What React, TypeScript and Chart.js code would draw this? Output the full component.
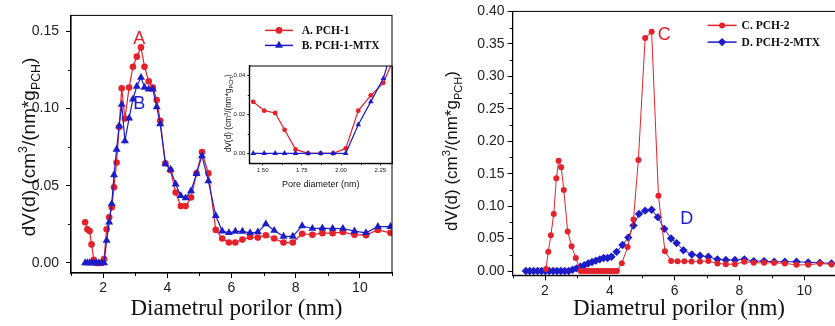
import React, { useEffect, useRef } from 'react';
import { Chart, registerables } from 'chart.js';
Chart.register(...registerables);

const RED = '#e3222b';
const BLUE = '#1c1cc8';
const SANS = '"Liberation Sans", Arial, sans-serif';
const SERIF = '"Liberation Serif", "Times New Roman", serif';

// ---------- Left panel data (PCH-1 / PCH-1-MTX) ----------
const leftX = [1.44, 1.51, 1.58, 1.64, 1.71, 1.79, 1.87, 1.95, 2.03, 2.11, 2.19, 2.27, 2.34, 2.42, 2.5, 2.58, 2.68, 2.81, 2.93, 3.05, 3.18, 3.29, 3.42, 3.55, 3.67, 3.78, 3.94, 4.1, 4.26, 4.42, 4.57, 4.74, 4.91, 5.08, 5.28, 5.51, 5.71, 5.92, 6.12, 6.34, 6.58, 6.82, 7.07, 7.33, 7.62, 7.91, 8.2, 8.52, 8.83, 9.15, 9.47, 9.83, 10.19, 10.56, 10.95];
const pch1 = [0.0263, 0.0218, 0.0206, 0.012, 0.002, 0, 0, 0, 0.0025, 0.0218, 0.0296, 0.036, 0.049, 0.065, 0.088, 0.113, 0.0935, 0.1135, 0.127, 0.1335, 0.1395, 0.127, 0.1175, 0.1135, 0.1055, 0.092, 0.0645, 0.06, 0.0456, 0.0368, 0.0368, 0.0424, 0.058, 0.0718, 0.058, 0.0214, 0.0158, 0.0132, 0.0132, 0.0151, 0.0168, 0.0164, 0.0179, 0.0158, 0.0132, 0.0132, 0.0189, 0.0183, 0.0193, 0.0193, 0.02, 0.0183, 0.018, 0.0214, 0.0195];
const pch1Mtx = [0, 0, 0, 0, 0, 0, 0, 0, 0, 0.0146, 0.0264, 0.0383, 0.057, 0.0735, 0.0887, 0.1025, 0.079, 0.0937, 0.106, 0.1143, 0.12, 0.1136, 0.1124, 0.1125, 0.101, 0.09, 0.064, 0.0605, 0.051, 0.0435, 0.042, 0.0466, 0.0578, 0.0693, 0.053, 0.0305, 0.0206, 0.0195, 0.0204, 0.0204, 0.0195, 0.02, 0.0252, 0.021, 0.0172, 0.0172, 0.024, 0.0223, 0.0225, 0.0223, 0.0223, 0.0206, 0.0195, 0.0235, 0.0235];
const insetCount = 14; // points of the left series shown in the inset

// ---------- Right panel data (PCH-2 / PCH-2-MTX) ----------
const pch2X = [2.03, 2.1, 2.18, 2.27, 2.35, 2.42, 2.5, 2.58, 2.7, 2.82, 2.95, 3.1, 3.18, 3.26, 3.34, 3.42, 3.5, 3.58, 3.66, 3.74, 3.82, 3.9, 3.98, 4.06, 4.14, 4.22, 4.37, 4.55, 4.73, 4.88, 5.09, 5.29, 5.5, 5.7, 5.89, 6.09, 6.3, 6.52, 6.78, 7.04, 7.32, 7.58, 7.86, 8.15, 8.44, 8.76, 9.07, 9.4, 9.76, 10.12, 10.48, 10.84];
const pch2 = [0.003, 0.0295, 0.055, 0.088, 0.143, 0.17, 0.16, 0.125, 0.061, 0.038, 0.02, 0, 0, 0, 0, 0, 0, 0, 0, 0, 0, 0, 0, 0, 0, 0, 0.012, 0.037, 0.0795, 0.171, 0.359, 0.3685, 0.116, 0.0306, 0.0155, 0.015, 0.015, 0.0145, 0.0145, 0.0155, 0.0117, 0.0105, 0.0105, 0.0143, 0.0127, 0.0127, 0.0127, 0.0117, 0.0095, 0.0095, 0.0117, 0.0102];
const pch2MtxX = [1.41, 1.53, 1.65, 1.77, 1.89, 2.01, 2.13, 2.25, 2.37, 2.49, 2.61, 2.73, 2.85, 2.97, 3.09, 3.21, 3.33, 3.45, 3.57, 3.69, 3.81, 3.93, 4.05, 4.21, 4.39, 4.57, 4.73, 4.9, 5.09, 5.29, 5.48, 5.68, 5.89, 6.06, 6.27, 6.53, 6.78, 7.04, 7.32, 7.58, 7.86, 8.15, 8.44, 8.76, 9.07, 9.4, 9.76, 10.12, 10.48, 10.84];
const pch2Mtx = [0, 0, 0, 0, 0, 0, 0, 0, 0, 0, 0, 0, 0.002, 0.004, 0.0065, 0.009, 0.0115, 0.014, 0.016, 0.018, 0.02, 0.02, 0.022, 0.0295, 0.04, 0.0515, 0.07, 0.088, 0.093, 0.0943, 0.083, 0.065, 0.05, 0.043, 0.032, 0.0255, 0.0235, 0.022, 0.018, 0.017, 0.017, 0.018, 0.0153, 0.0153, 0.0143, 0.0143, 0.0143, 0.0133, 0.0127, 0.0117];

// ---------- Ticks ----------
const xTicks = [2, 4, 6, 8, 10];
const xTickLabels = ['2', '4', '6', '8', '10'];
const xMinor = [1, 3, 5, 7, 9, 11];
const leftYTicks = [0, 0.05, 0.1, 0.15];
const leftYTickLabels = ['0.00', '0.05', '0.10', '0.15'];
const leftYMinor = [0.025, 0.075, 0.125];
const rightYTicks = [0, 0.05, 0.1, 0.15, 0.2, 0.25, 0.3, 0.35, 0.4];
const rightYTickLabels = ['0.00', '0.05', '0.10', '0.15', '0.20', '0.25', '0.30', '0.35', '0.40'];
const rightYMinor = [0.025, 0.075, 0.125, 0.175, 0.225, 0.275, 0.325, 0.375];
const insetXTicks = [1.5, 1.75, 2.0, 2.25];
const insetXTickLabels = ['1.50', '1.75', '2.00', '2.25'];
const insetXMinor = [1.625, 1.875, 2.125];
const insetYTicks = [0, 0.02, 0.04];
const insetYTickLabels = ['0.00', '0.02', '0.04'];
const insetYMinor = [0.01, 0.03];

// ---------- Text ----------
const xTitle = 'Diametrul porilor (nm)';
const insetXTitle = 'Pore diameter (nm)';
const yTitleParts = [
  { text: 'dV(d) (cm', scale: 1, dy: 0 },
  { text: '3', scale: 0.65, dy: -0.42 },
  { text: '/(nm*g', scale: 1, dy: 0 },
  { text: 'PCH', scale: 0.65, dy: 0.28 },
  { text: ')', scale: 1, dy: 0 },
];
const leftLegend = [
  { label: 'A. PCH-1', color: RED, style: 'circle' },
  { label: 'B. PCH-1-MTX', color: BLUE, style: 'triangle' },
];
const rightLegend = [
  { label: 'C. PCH-2', color: RED, style: 'circle' },
  { label: 'D. PCH-2-MTX', color: BLUE, style: 'rectRot' },
];
const leftNotes = [
  { text: 'A', x: 3.13, y: 0.145, color: RED },
  { text: 'B', x: 3.13, y: 0.103, color: BLUE },
];
const rightNotes = [
  { text: 'C', x: 5.68, y: 0.363, color: RED },
  { text: 'D', x: 6.37, y: 0.08, color: BLUE },
];

function drawMarker(ctx: CanvasRenderingContext2D, style: string, x: number, y: number, r: number, color: string) {
  ctx.fillStyle = color;
  ctx.beginPath();
  if (style === 'circle') ctx.arc(x, y, r, 0, Math.PI * 2);
  else if (style === 'triangle') {
    ctx.moveTo(x, y - r);
    ctx.lineTo(x + r * 0.866, y + r * 0.5);
    ctx.lineTo(x - r * 0.866, y + r * 0.5);
  } else {
    ctx.moveTo(x, y - r);
    ctx.lineTo(x + r, y);
    ctx.lineTo(x, y + r);
    ctx.lineTo(x - r, y);
  }
  ctx.closePath();
  ctx.fill();
}

function drawRichVertical(ctx: CanvasRenderingContext2D, cx: number, cy: number, size: number) {
  ctx.save();
  ctx.translate(cx, cy);
  ctx.rotate(-Math.PI / 2);
  let total = 0;
  const segs = yTitleParts.map((p) => {
    const fs = size * p.scale;
    ctx.font = `${fs}px ${SANS}`;
    const w = ctx.measureText(p.text).width;
    total += w;
    return { ...p, fs, w };
  });
  let x = -total / 2;
  const base = size * 0.36;
  ctx.fillStyle = '#111';
  ctx.textAlign = 'left';
  ctx.textBaseline = 'alphabetic';
  segs.forEach((s) => {
    ctx.font = `${s.fs}px ${SANS}`;
    ctx.fillText(s.text, x, base + s.dy * size);
    x += s.w;
  });
  ctx.restore();
}

type DecoCfg = {
  minorX: number[];
  minorY: number[];
  minorLen: number;
  yTitle: { x: number; y: number; size: number };
  xTitle: { text: string; x: number; y: number; size: number; family: string };
  legend?: { items: { label: string; color: string; style: string }[]; dx: number[]; dy: number[]; r: number[] };
  notes?: { text: string; x: number; y: number; color: string }[];
  noteSize?: number;
};

function makeDeco(cfg: DecoCfg) {
  return {
    id: 'deco',
    afterDraw(chart: any) {
      const ctx: CanvasRenderingContext2D = chart.ctx;
      const { left, right, top, bottom } = chart.chartArea;
      const xs = chart.scales.x;
      const ys = chart.scales.y;
      ctx.save();
      ctx.strokeStyle = '#000';
      ctx.lineWidth = 1;
      ctx.strokeRect(left, top, right - left, bottom - top);
      ctx.beginPath();
      cfg.minorX.forEach((v) => {
        const px = Math.round(xs.getPixelForValue(v)) + 0.5;
        ctx.moveTo(px, bottom);
        ctx.lineTo(px, bottom + cfg.minorLen);
      });
      cfg.minorY.forEach((v) => {
        const py = Math.round(ys.getPixelForValue(v)) + 0.5;
        ctx.moveTo(left - cfg.minorLen, py);
        ctx.lineTo(left, py);
      });
      ctx.stroke();
      drawRichVertical(ctx, cfg.yTitle.x, cfg.yTitle.y, cfg.yTitle.size);
      ctx.fillStyle = '#111';
      ctx.font = `${cfg.xTitle.size}px ${cfg.xTitle.family}`;
      ctx.textAlign = 'center';
      ctx.textBaseline = 'alphabetic';
      ctx.fillText(cfg.xTitle.text, cfg.xTitle.x, cfg.xTitle.y);
      if (cfg.legend) {
        const L = cfg.legend;
        L.items.forEach((it, i) => {
          const y = top + L.dy[i];
          const x0 = left + L.dx[0];
          const x1 = left + L.dx[1];
          ctx.strokeStyle = it.color;
          ctx.lineWidth = 1.5;
          ctx.beginPath();
          ctx.moveTo(x0, y);
          ctx.lineTo(x1, y);
          ctx.stroke();
          drawMarker(ctx, it.style, (x0 + x1) / 2, y, L.r[i], it.color);
          ctx.fillStyle = '#111';
          ctx.font = `bold 11.5px ${SERIF}`;
          ctx.textAlign = 'left';
          ctx.textBaseline = 'middle';
          ctx.fillText(it.label, left + L.dx[2], y + 1);
        });
      }
      if (cfg.notes) {
        ctx.font = `${cfg.noteSize}px ${SANS}`;
        ctx.textAlign = 'center';
        ctx.textBaseline = 'middle';
        cfg.notes.forEach((n) => {
          ctx.fillStyle = n.color;
          ctx.fillText(n.text, xs.getPixelForValue(n.x), ys.getPixelForValue(n.y));
        });
      }
      ctx.restore();
    },
  };
}

function axis(min: number, max: number, ticks: number[], labels: string[], fontSize: number, tickLen: number, pad: number, fit: (s: any) => void) {
  return {
    type: 'linear' as const,
    min,
    max,
    afterBuildTicks: (s: any) => {
      s.ticks = ticks.map((v) => ({ value: v }));
    },
    afterFit: fit,
    ticks: {
      callback: (_v: any, i: number) => labels[i],
      font: { family: SANS, size: fontSize },
      color: '#222',
      padding: pad,
      autoSkip: false,
      maxRotation: 0,
      minRotation: 0,
    },
    grid: { drawOnChartArea: false, drawTicks: true, tickLength: tickLen, color: '#000', lineWidth: 1 },
    border: { display: true, color: '#000', width: 1.2 },
  };
}

function series(xs: number[], ys: number[], color: string, style: string, r: number, lw: number, order: number) {
  return {
    data: xs.map((x, i) => ({ x, y: ys[i] })),
    borderColor: color,
    backgroundColor: color,
    borderWidth: lw,
    pointStyle: style,
    pointRadius: r,
    pointBorderWidth: 0,
    pointBackgroundColor: color,
    tension: 0,
    order,
  };
}

function baseOptions(padding: any, scales: any) {
  return {
    animation: false,
    responsive: false,
    maintainAspectRatio: false,
    layout: { padding },
    plugins: { legend: { display: false }, tooltip: { enabled: false } },
    scales,
  };
}

export default function App() {
  const leftRef = useRef<HTMLCanvasElement>(null);
  const rightRef = useRef<HTMLCanvasElement>(null);
  const insetRef = useRef<HTMLCanvasElement>(null);

  useEffect(() => {
    const charts: Chart[] = [];

    charts.push(
      new Chart(leftRef.current!, {
        type: 'line',
        data: {
          datasets: [
            series(leftX, pch1, RED, 'circle', 3.3, 1.2, 2),
            series(leftX, pch1Mtx, BLUE, 'triangle', 4.6, 1.2, 1),
          ] as any,
        },
        options: baseOptions(
          { left: 0, right: 8, top: 9, bottom: 0 },
          {
            x: axis(1, 11, xTicks, xTickLabels, 14, 5, 2, (s: any) => { s.height = 53; }),
            y: axis(-0.0065, 0.1602, leftYTicks, leftYTickLabels, 14, 5, 7, (s: any) => { s.width = 71; }),
          }
        ) as any,
        plugins: [
          makeDeco({
            minorX: xMinor,
            minorY: leftYMinor,
            minorLen: 3,
            yTitle: { x: 28, y: 147, size: 19 },
            xTitle: { text: xTitle, x: 236.5, y: 315, size: 23, family: SERIF },
            legend: { items: leftLegend, dx: [194, 222, 230.7], dy: [15, 30], r: [3.3, 4.6] },
            notes: leftNotes,
            noteSize: 18,
          }),
        ],
      })
    );

    charts.push(
      new Chart(insetRef.current!, {
        type: 'line',
        data: {
          datasets: [
            series(leftX.slice(0, insetCount), pch1.slice(0, insetCount), RED, 'circle', 2.4, 1.2, 2),
            series(leftX.slice(0, insetCount), pch1Mtx.slice(0, insetCount), BLUE, 'triangle', 3.2, 1.2, 1),
          ] as any,
        },
        options: baseOptions(
          { left: 0, right: 4.7, top: 11, bottom: 0 },
          {
            x: axis(1.415, 2.327, insetXTicks, insetXTickLabels, 6, 2, 1, (s: any) => { s.height = 26.7; }),
            y: axis(-0.0051, 0.0446, insetYTicks, insetYTickLabels, 6, 2, 2, (s: any) => { s.width = 49.3; }),
          }
        ) as any,
        plugins: [
          makeDeco({
            minorX: insetXMinor,
            minorY: insetYMinor,
            minorLen: 1.5,
            yTitle: { x: 28, y: 58.3, size: 8.3 },
            xTitle: { text: insetXTitle, x: 120.7, y: 132, size: 9, family: SANS },
          }),
        ],
      })
    );

    charts.push(
      new Chart(rightRef.current!, {
        type: 'line',
        data: {
          datasets: [
            series(pch2X, pch2, RED, 'circle', 3, 1, 1),
            series(pch2MtxX, pch2Mtx, BLUE, 'rectRot', 4.2, 1, 2),
          ] as any,
        },
        options: baseOptions(
          { left: 0, right: 8.3, top: 9.3, bottom: 0 },
          {
            x: axis(1, 11, xTicks, xTickLabels, 14, 5, 2, (s: any) => { s.height = 50.7; }),
            y: axis(-0.0066, 0.4, rightYTicks, rightYTickLabels, 14, 5, 3, (s: any) => { s.width = 97.6; }),
          }
        ) as any,
        plugins: [
          makeDeco({
            minorX: xMinor,
            minorY: rightYMinor,
            minorLen: 3,
            yTitle: { x: 35.7, y: 151, size: 17 },
            xTitle: { text: xTitle, x: 264, y: 315, size: 23, family: SERIF },
            legend: { items: rightLegend, dx: [195, 224, 229], dy: [14, 30.7], r: [3, 4.2] },
            notes: rightNotes,
            noteSize: 18,
          }),
        ],
      })
    );

    return () => charts.forEach((c) => c.destroy());
  }, []);

  return (
    <div style={{ position: 'absolute', left: 0, top: 0, width: 835, height: 326, overflow: 'hidden', background: '#fff' }}>
      <canvas ref={leftRef} width={400} height={326} style={{ position: 'absolute', left: 0, top: 0, width: 400, height: 326 }} />
      <canvas ref={rightRef} width={430} height={326} style={{ position: 'absolute', left: 415, top: 0, width: 430, height: 326 }} />
      <canvas ref={insetRef} width={197} height={135} style={{ position: 'absolute', left: 200, top: 55, width: 197, height: 135 }} />
    </div>
  );
}
